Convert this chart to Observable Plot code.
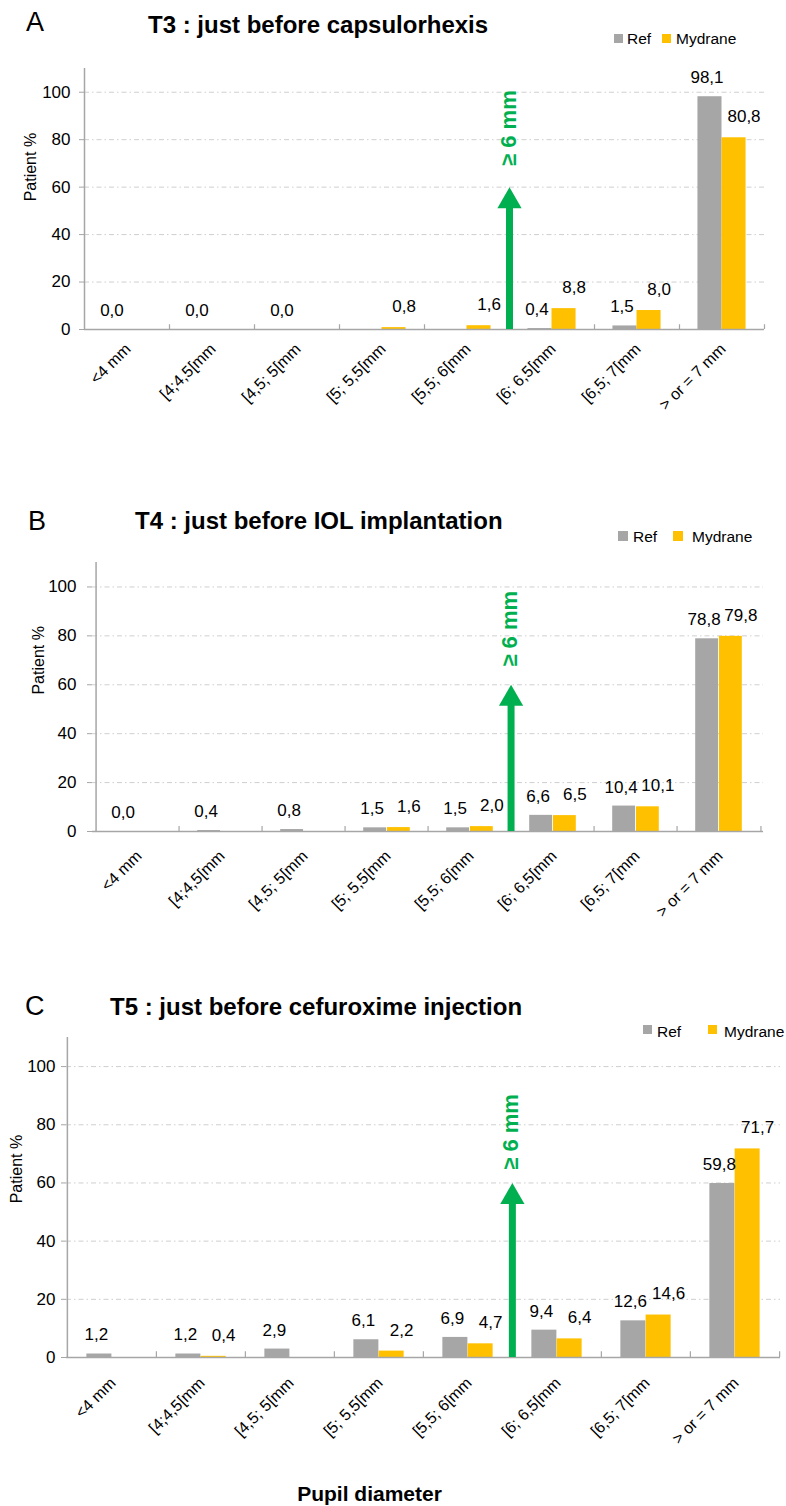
<!DOCTYPE html>
<html>
<head>
<meta charset="utf-8">
<script src="https://cdn.jsdelivr.net/npm/d3@7"></script>
<script src="https://cdn.jsdelivr.net/npm/@observablehq/plot@0.6"></script>
<style>
  html, body { margin: 0; padding: 0; background: #fff; }
  #page { position: relative; width: 786px; height: 1506px; overflow: hidden; font-family: "Liberation Sans", Arial, Helvetica, sans-serif; color: #000; }
  .abs { position: absolute; line-height: 1; white-space: nowrap; }
  .letter { font-size: 27px; }
  .title { font-size: 24px; font-weight: bold; }
  .leg { font-size: 15.5px; }
  .sw { position: absolute; }
  .svgwrap { position: absolute; left: 0; }
</style>
</head>
<body>
<div id="page"></div>
<script>
// ---------- data ----------
const categories = ["<4 mm", "[4;4,5[mm", "[4,5; 5[mm", "[5; 5,5[mm", "[5,5; 6[mm", "[6; 6,5[mm", "[6,5; 7[mm", "> or = 7 mm"];
const series = ["Ref", "Mydrane"];
const seriesColors = ["#a6a6a6", "#ffc000"];

// A : T3
const refA = [0, 0, 0, 0, 0, 0.4, 1.5, 98.1];
const mydA = [0, 0, 0, 0.8, 1.6, 8.8, 8.0, 80.8];
const refLabA = ["0,0", "0,0", "0,0", "", "", "0,4", "1,5", "98,1"];
const mydLabA = ["", "", "", "0,8", "1,6", "8,8", "8,0", "80,8"];

// B : T4
const refB = [0, 0.4, 0.8, 1.5, 1.5, 6.6, 10.4, 78.8];
const mydB = [0, 0, 0, 1.6, 2.0, 6.5, 10.1, 79.8];
const refLabB = ["0,0", "0,4", "0,8", "1,5", "1,5", "6,6", "10,4", "78,8"];
const mydLabB = ["", "", "", "1,6", "2,0", "6,5", "10,1", "79,8"];

// C : T5
const refC = [1.2, 1.2, 2.9, 6.1, 6.9, 9.4, 12.6, 59.8];
const mydC = [0, 0.4, 0, 2.2, 4.7, 6.4, 14.6, 71.7];
const refLabC = ["1,2", "1,2", "2,9", "6,1", "6,9", "9,4", "12,6", "59,8"];
const mydLabC = ["", "0,4", "", "2,2", "4,7", "6,4", "14,6", "71,7"];

const yTicks = [0, 20, 40, 60, 80, 100];
const thresholdCat = "[6; 6,5[mm";
const thresholdValue = 60;
const thresholdText = "≥ 6 mm";
const yLabel = "Patient %";
const xTitle = "Pupil diameter";

const titles = ["T3 : just before capsulorhexis", "T4 : just before IOL implantation", "T5 : just before cefuroxime injection"];
const letters = ["A", "B", "C"];

// ---------- layout ----------
const page = document.getElementById("page");
const W = 786;
const axisColor = "#a6a6a6";
const green = "#00b050";

function addText(txt, cls, left, baseline, size, extra) {
  const d = document.createElement("div");
  d.className = "abs " + cls;
  d.textContent = txt;
  d.style.left = left + "px";
  d.style.top = (baseline - 0.8465 * size) + "px";
  if (extra) Object.assign(d.style, extra);
  page.appendChild(d);
  return d;
}
function addSwatch(left, top, size, color) {
  const s = document.createElement("div");
  s.className = "sw";
  Object.assign(s.style, {left: left + "px", top: top + "px", width: size + "px", height: size + "px", background: color});
  page.appendChild(s);
}

function panel(cfg) {
  const {top, height, mT, mB, mL, mR, ref, myd, refLab, myLab, catDy, arrowTextDy, ylabDx, ylabY, tickPad} = cfg;
  const step = (W - mL - mR) / categories.length;
  const w = step * 0.283;
  const data = [];
  categories.forEach((c, i) => {
    data.push({cat: c, series: "Ref", value: ref[i], label: refLab[i]});
    data.push({cat: c, series: "Mydrane", value: myd[i], label: myLab[i]});
  });
  const refData = data.filter(d => d.series === "Ref");
  const mydData = data.filter(d => d.series === "Mydrane");
  const boundaries = categories.slice(1);
  const plot = Plot.plot({
    width: W,
    height,
    marginTop: mT, marginBottom: mB, marginLeft: mL, marginRight: mR,
    style: {fontFamily: '"Liberation Sans", Arial, Helvetica, sans-serif', color: "#000", background: "transparent"},
    x: {domain: categories, padding: 0, axis: null},
    y: {domain: [0, 110]},
    marks: [
      Plot.gridY([20, 40, 60, 80, 100], {stroke: "#cfcfcf", strokeOpacity: 1, strokeDasharray: "5,3,1.5,3"}),
      Plot.barY(refData, {x: "cat", y: "value", fill: seriesColors[0], insetLeft: step / 2 - w, insetRight: step / 2}),
      Plot.barY(mydData, {x: "cat", y: "value", fill: seriesColors[1], insetLeft: step / 2, insetRight: step / 2 - w}),
      Plot.ruleY([0], {stroke: axisColor, strokeWidth: 1.5}),
      Plot.ruleX([categories[0]], {x: d => d, dx: -step / 2, y1: 0, y2: 110, stroke: axisColor, strokeWidth: 1.5}),
      Plot.ruleX(boundaries, {x: d => d, dx: -step / 2, y1: 0, y2: 2, stroke: axisColor, strokeWidth: 1.2}),
      Plot.ruleX([categories[categories.length - 1]], {x: d => d, dx: step / 2, y1: 0, y2: 2, stroke: axisColor, strokeWidth: 1.2}),
      Plot.axisY(yTicks, {tickSize: 5, tickPadding: tickPad, fontSize: 17, stroke: axisColor, fill: "#000", label: null}),
      Plot.text(refData.filter(d => d.label), {x: "cat", y: "value", text: "label", dx: -w / 2 - 3, dy: -19, fontSize: 17, fill: "#000"}),
      Plot.text(mydData.filter(d => d.label), {x: "cat", y: "value", text: "label", dx: w / 2 + 10, dy: -21, fontSize: 17, fill: "#000"}),
      Plot.text(categories, {x: d => d, y: 0, text: d => d, rotate: -45, textAnchor: "end", dx: 1, dy: catDy, fontSize: 16, fill: "#000"}),
      Plot.ruleX([thresholdCat], {x: d => d, dx: -step / 2, y1: 0, y2: thresholdValue - 5, stroke: green, strokeWidth: 7}),
      Plot.dot([thresholdCat], {x: d => d, y: thresholdValue, dx: -step / 2, dy: 14, symbol: "triangle", r: 9, fill: green, stroke: "none"}),
      Plot.text([thresholdText], {x: () => thresholdCat, y: thresholdValue, dx: -step / 2 - 1, dy: arrowTextDy, rotate: -90, fontSize: 22, fontWeight: "bold", fill: green}),
      Plot.text([yLabel], {frameAnchor: "left", y: ylabY, dx: ylabDx, rotate: -90, fontSize: 16, fill: "#000"})
    ]
  });
  const wrap = document.createElement("div");
  wrap.className = "svgwrap";
  wrap.style.top = top + "px";
  wrap.appendChild(plot);
  page.appendChild(wrap);
}

// Panel A
panel({top: 0, height: 430, mT: 68, mB: 101, mL: 84, mR: 22, ref: refA, myd: mydA, refLab: refLabA, myLab: mydLabA, catDy: 17, arrowTextDy: -59, ylabDx: -54, ylabY: 54, tickPad: 9});
// Panel B
panel({top: 500, height: 430, mT: 62, mB: 99, mL: 92, mR: 23, ref: refB, myd: mydB, refLab: refLabB, myLab: mydLabB, catDy: 22, arrowTextDy: -56, ylabDx: -54, ylabY: 56, tickPad: 11});
// Panel C
panel({top: 1000, height: 470, mT: 37, mB: 113, mL: 66, mR: 6, ref: refC, myd: mydC, refLab: refLabC, myLab: mydLabC, catDy: 23, arrowTextDy: -51, ylabDx: -50, ylabY: 53, tickPad: 6});

// Titles, letters, legends
addText(letters[0], "letter", 26, 32, 27);
addText(titles[0], "title", 148, 33, 24);
addSwatch(614, 34, 9, seriesColors[0]);
addText(series[0], "leg", 627, 44, 15.5);
addSwatch(662, 34, 9, seriesColors[1]);
addText(series[1], "leg", 676, 44, 15.5);

addText(letters[1], "letter", 28, 531, 27);
addText(titles[1], "title", 135, 529, 24);
addSwatch(618, 531, 10, seriesColors[0]);
addText(series[0], "leg", 633, 542, 15.5);
addSwatch(673, 531, 10, seriesColors[1]);
addText(series[1], "leg", 692, 542, 15.5);

addText(letters[2], "letter", 25, 1016, 27);
addText(titles[2], "title", 110, 1015, 24);
addSwatch(643, 1025, 9, seriesColors[0]);
addText(series[0], "leg", 657, 1037, 15.5);
addSwatch(708, 1025, 9, seriesColors[1]);
addText(series[1], "leg", 724, 1037, 15.5);

addText(xTitle, "title", 0, 1501, 21, {fontSize: "21px", width: "739px", textAlign: "center"});
</script>
</body>
</html>
